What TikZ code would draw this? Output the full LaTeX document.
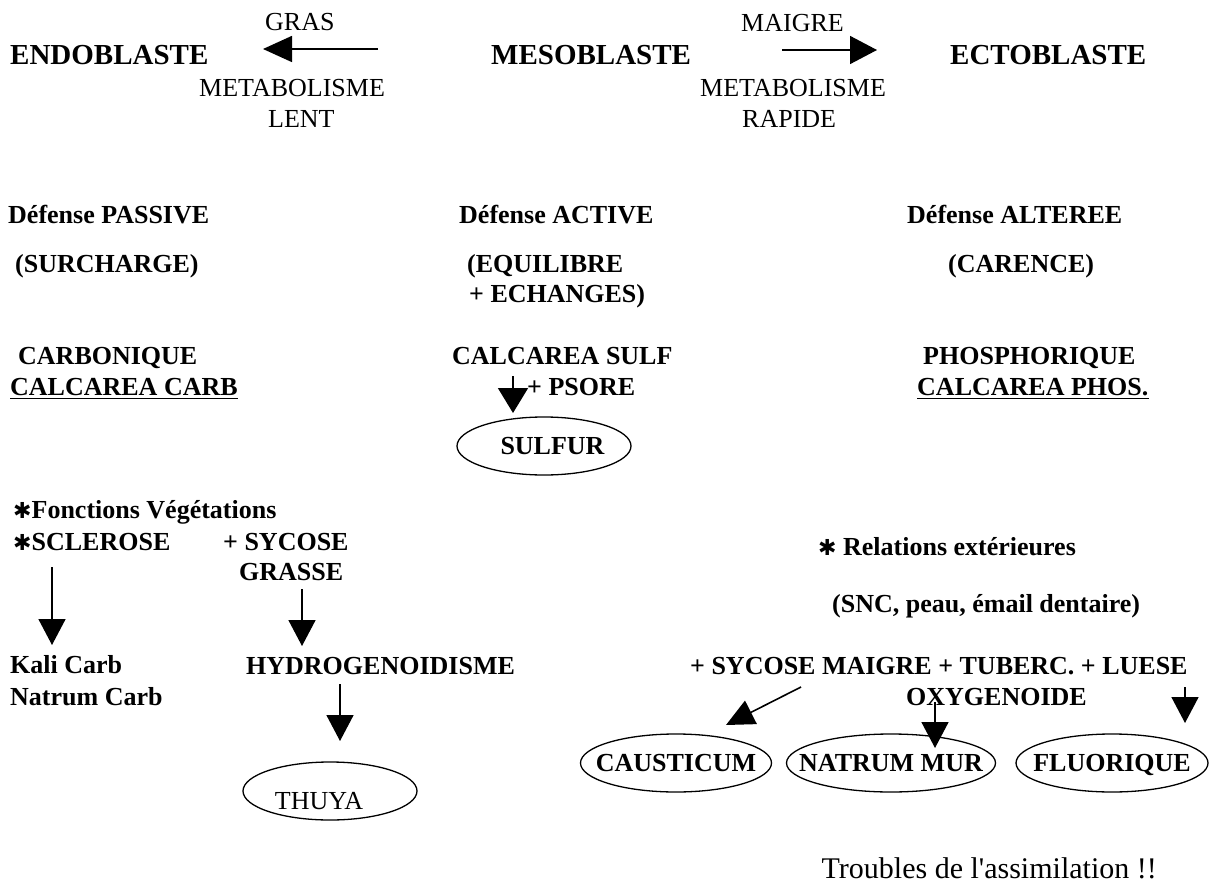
\documentclass[tikz,border=0pt]{standalone}
\usepackage{fontspec}
\setmainfont{Liberation Serif}
\newfontfamily\symfont{DejaVu Sans}
\usetikzlibrary{arrows.meta,shapes.geometric,calc}

\newcommand\starmark{{\symfont\fontsize{22}{22}\selectfont ✱}}
% text inside an oval: no width of its own, cap height only (descenders ignored)
\newcommand\ovtext[1]{\makebox[0pt]{\raisebox{0pt}[17.5pt][0pt]{#1}}}

\begin{document}
\begin{tikzpicture}[x=1pt,y=-1pt,
  txt/.style={inner sep=0pt,anchor=base west,font=\fontsize{26}{31}\selectfont},
  btxt/.style={txt,font=\fontsize{26}{31}\selectfont\bfseries},
  germ/.style={txt,font=\fontsize{29}{34}\selectfont\bfseries},
  arr/.style={line width=1.6pt,-{Triangle[length=26pt,width=27pt]}},
  oval/.style={draw,ellipse,line width=1.3pt,inner sep=0pt,minimum height=58pt,
    font=\fontsize{26}{31}\selectfont\bfseries},
  uline/.style={line width=1.8pt},
]
\fill[white] (0,0) rectangle (1210,888);
\useasboundingbox (0,0) rectangle (1210,888);

% --- germ layers and metabolism -------------------------------------
\node[germ] (endo) at (10,65) {ENDOBLASTE};
\node[txt] (gras) at (265,31) {GRAS};
\node[txt] (metaL) at (199,97) {METABOLISME};
\node[txt] (lent) at (268,128) {LENT};
\coordinate (grasS) at (378,49);
\coordinate (grasE) at (263,49);
\draw[arr,-{Triangle[length=29pt,width=26pt]}] (grasS) -- (grasE);

\node[germ] (meso) at (491,65) {MESOBLASTE};
\node[txt] (maigre) at (741,32) {MAIGRE};
\node[txt] (metaR) at (700,97) {METABOLISME};
\node[txt] (rapide) at (742,128) {RAPIDE};
\coordinate (maigreS) at (782,50);
\coordinate (maigreE) at (877,50);
\draw[arr,-{Triangle[length=27pt,width=28pt]}] (maigreS) -- (maigreE);

\node[germ] (ecto) at (950,65) {ECTOBLASTE};

% --- defence types --------------------------------------------------
\node[btxt] (defP) at (8,223) {Défense PASSIVE};
\node[btxt] (defA) at (459,223) {Défense ACTIVE};
\node[btxt] (defL) at (907,223) {Défense ALTEREE};
\node[btxt] (surch) at (15,272) {(SURCHARGE)};
\node[btxt] (equil) at (467,272) {(EQUILIBRE};
\node[btxt] (echang) at (469,302) {+ ECHANGES)};
\node[btxt] (caren) at (948,272) {(CARENCE)};

% --- calcarea remedies ----------------------------------------------
\node[btxt] (carbo) at (18,364) {CARBONIQUE};
\node[btxt] (ccarb) at (10,395) {CALCAREA CARB};
\draw[uline] ($(ccarb.base west)+(0,3.5)$) -- ($(ccarb.base east)+(0,3.5)$);
\node[btxt] (csulf) at (452,364) {CALCAREA SULF};
\node[btxt] (psore) at (527,395) {+ PSORE};
\node[btxt] (phos) at (923,364) {PHOSPHORIQUE};
\node[btxt] (cphos) at (917,395) {CALCAREA PHOS.};
\draw[uline] ($(cphos.base west)+(0,3.5)$) -- ($(cphos.base east)+(0,3.5)$);

\node[oval,minimum width=174pt] (sulfur) at (544,446)
  {\ovtext{\hspace*{17pt}SULFUR}};
\coordinate (sulfS) at (513,376);
\coordinate (sulfE) at (513,413);
\draw[arr,-{Triangle[length=25pt,width=30pt]}] (sulfS) -- (sulfE);

% --- vegetative functions -------------------------------------------
\node[btxt] (fonct) at (13,518) {\starmark Fonctions Végétations};
\node[btxt] (scler) at (13,550) {\starmark SCLEROSE};
\node[btxt] (sycG) at (223,550) {+ SYCOSE};
\node[btxt] (grasse) at (239,580) {GRASSE};
\node[btxt] (kali) at (10,673) {Kali Carb};
\node[btxt] (natC) at (10,705) {Natrum Carb};
\node[btxt] (hydro) at (246,674) {HYDROGENOIDISME};
\node[oval,minimum width=174pt,font=\fontsize{26}{31}\selectfont] (thuya) at (330,791)
  {\makebox[0pt]{\raisebox{-10pt}[17pt][0pt]{THUYA}\hspace*{22pt}}};

\coordinate (sclS) at (52,567);
\coordinate (sclE) at (52,645);
\draw[arr] (sclS) -- (sclE);
\coordinate (grsS) at (302,589);
\coordinate (grsE) at (302,646);
\draw[arr] (grsS) -- (grsE);
\coordinate (hydS) at (340,684);
\coordinate (hydE) at (340,741);
\draw[arr] (hydS) -- (hydE);

% --- relational functions -------------------------------------------
\node[btxt] (relat) at (818,555) {\starmark\ Relations extérieures};
\node[btxt] (snc) at (832,612) {(SNC, peau, émail dentaire)};
\node[btxt] (sycM) at (690,674) {+ SYCOSE MAIGRE + TUBERC. + LUESE};
\node[btxt] (oxy) at (906,705) {OXYGENOIDE};

\node[oval,minimum width=191pt] (caust) at (676,763) {\ovtext{CAUSTICUM}};
\node[oval,minimum width=209pt] (natM) at (891,763) {\ovtext{NATRUM MUR}};
\node[oval,minimum width=192pt] (fluor) at (1112,763) {\ovtext{FLUORIQUE}};

\coordinate (cauS) at (801,687);
\coordinate (cauE) at (726,725);
\draw[arr,-{Triangle[length=28pt,width=26pt]}] (cauS) -- (cauE);
\coordinate (natS) at (935,702);
\coordinate (natE) at (935,748);
\draw[arr] (natS) -- (natE);
\coordinate (fluS) at (1185,687);
\coordinate (fluE) at (1185,723);
\draw[arr] (fluS) -- (fluE);

\node[txt,anchor=base east,font=\fontsize{30}{36}\selectfont] (troub) at (1157,878)
  {Troubles de l\textquotesingle assimilation !!};
\end{tikzpicture}
\end{document}
